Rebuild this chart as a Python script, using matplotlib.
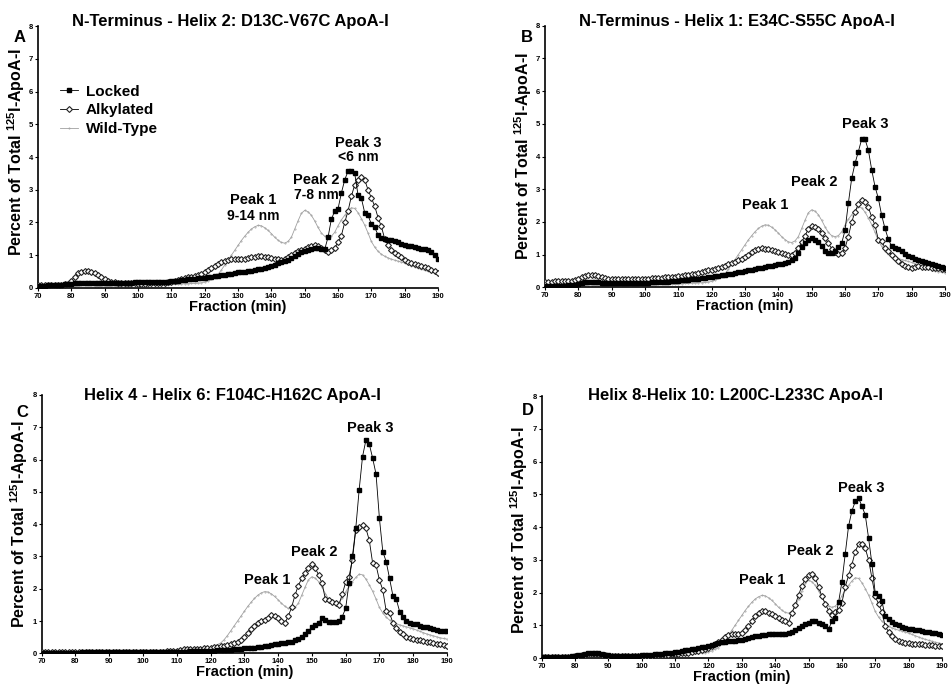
import numpy as np
import matplotlib
matplotlib.use("Agg")
import matplotlib.pyplot as plt

plt.rcParams['font.family'] = ['Liberation Sans', 'DejaVu Sans']
plt.rcParams['font.weight'] = 'bold'
plt.rcParams['mathtext.fontset'] = 'custom'
plt.rcParams['mathtext.bf'] = 'Liberation Sans:bold'
plt.rcParams['mathtext.rm'] = 'Liberation Sans:bold'
plt.rcParams['mathtext.default'] = 'bf'

# Fraction (min), 70..190 every minute
minutes = np.arange(70, 191)

# wild-type reference profile (same in every panel)
wild_type = [
    0.03, 0.03, 0.03, 0.03, 0.03, 0.04, 0.04, 0.04, 0.04, 0.05,
    0.05, 0.06, 0.07, 0.08, 0.08, 0.08, 0.08, 0.07, 0.07, 0.07,
    0.07, 0.07, 0.07, 0.07, 0.07, 0.07, 0.07, 0.07, 0.07, 0.08,
    0.08, 0.08, 0.08, 0.08, 0.09, 0.09, 0.09, 0.10, 0.10, 0.10,
    0.11, 0.11, 0.12, 0.12, 0.13, 0.13, 0.14, 0.14, 0.15, 0.16,
    0.18, 0.22, 0.27, 0.32, 0.42, 0.55, 0.70, 0.85, 1.00, 1.15,
    1.30, 1.45, 1.58, 1.70, 1.80, 1.87, 1.91, 1.90, 1.84, 1.76,
    1.66, 1.55, 1.46, 1.39, 1.37, 1.42, 1.55, 1.80, 2.05, 2.28,
    2.37, 2.33, 2.22, 2.05, 1.85, 1.68, 1.58, 1.55, 1.58, 1.70,
    1.90, 2.08, 2.22, 2.35, 2.45, 2.43, 2.30, 2.12, 1.92, 1.68,
    1.42, 1.25, 1.12, 1.03, 0.97, 0.92, 0.88, 0.85, 0.82, 0.79,
    0.76, 0.72, 0.68, 0.64, 0.60, 0.57, 0.54, 0.51, 0.48, 0.46,
    0.44]

# Panel A: D13C-V67C
locked_a = [
    0.05, 0.06, 0.07, 0.08, 0.09, 0.10, 0.10, 0.10, 0.11, 0.12,
    0.13, 0.14, 0.15, 0.16, 0.16, 0.16, 0.16, 0.16, 0.16, 0.16,
    0.16, 0.16, 0.16, 0.16, 0.16, 0.16, 0.16, 0.16, 0.16, 0.17,
    0.17, 0.17, 0.17, 0.17, 0.17, 0.17, 0.17, 0.18, 0.18, 0.19,
    0.20, 0.21, 0.22, 0.23, 0.25, 0.26, 0.27, 0.28, 0.29, 0.30,
    0.31, 0.33, 0.35, 0.37, 0.38, 0.40, 0.41, 0.42, 0.44, 0.46,
    0.48, 0.49, 0.50, 0.52, 0.53, 0.55, 0.57, 0.59, 0.61, 0.63,
    0.66, 0.70, 0.75, 0.80, 0.82, 0.85, 0.92, 0.98, 1.05, 1.10,
    1.12, 1.15, 1.20, 1.22, 1.22, 1.20, 1.18, 1.55, 2.10, 2.35,
    2.42, 2.90, 3.30, 3.57, 3.57, 3.50, 2.84, 2.74, 2.30, 2.22,
    1.95, 1.85, 1.62, 1.52, 1.50, 1.48, 1.46, 1.44, 1.40, 1.35,
    1.30, 1.28, 1.27, 1.26, 1.22, 1.20, 1.18, 1.16, 1.10, 1.00,
    0.88]
alkylated_a = [
    0.08, 0.09, 0.09, 0.10, 0.10, 0.10, 0.10, 0.10, 0.11, 0.13,
    0.22, 0.35, 0.45, 0.50, 0.51, 0.51, 0.49, 0.45, 0.40, 0.33,
    0.27, 0.22, 0.19, 0.17, 0.16, 0.15, 0.15, 0.14, 0.14, 0.14,
    0.13, 0.13, 0.13, 0.14, 0.14, 0.14, 0.15, 0.15, 0.16, 0.17,
    0.18, 0.20, 0.23, 0.26, 0.30, 0.33, 0.35, 0.37, 0.40, 0.44,
    0.50, 0.56, 0.62, 0.68, 0.74, 0.79, 0.83, 0.86, 0.88, 0.89,
    0.89, 0.89, 0.89, 0.91, 0.94, 0.96, 0.97, 0.97, 0.96, 0.95,
    0.93, 0.90, 0.88, 0.87, 0.88, 0.95, 1.02, 1.08, 1.12, 1.16,
    1.20, 1.24, 1.28, 1.30, 1.27, 1.22, 1.15, 1.10, 1.15, 1.22,
    1.40, 1.60, 2.00, 2.35, 2.80, 3.15, 3.30, 3.40, 3.30, 3.00,
    2.75, 2.50, 2.15, 1.88, 1.50, 1.32, 1.17, 1.08, 1.00, 0.96,
    0.85, 0.80, 0.76, 0.72, 0.70, 0.68, 0.64, 0.60, 0.56, 0.52,
    0.46]

# Panel B: E34C-S55C
locked_b = [
    0.03, 0.03, 0.04, 0.04, 0.04, 0.05, 0.05, 0.06, 0.06, 0.07,
    0.09, 0.12, 0.15, 0.17, 0.17, 0.16, 0.15, 0.13, 0.12, 0.12,
    0.12, 0.12, 0.12, 0.12, 0.12, 0.12, 0.13, 0.13, 0.13, 0.14,
    0.14, 0.14, 0.15, 0.15, 0.15, 0.16, 0.16, 0.17, 0.18, 0.19,
    0.20, 0.21, 0.22, 0.23, 0.24, 0.25, 0.26, 0.27, 0.29, 0.30,
    0.32, 0.34, 0.36, 0.38, 0.39, 0.40, 0.42, 0.44, 0.46, 0.48,
    0.50, 0.52, 0.54, 0.56, 0.58, 0.60, 0.62, 0.64, 0.66, 0.68,
    0.70, 0.72, 0.75, 0.78, 0.82, 0.90, 1.05, 1.22, 1.35, 1.45,
    1.50, 1.46, 1.38, 1.25, 1.12, 1.05, 1.05, 1.12, 1.22, 1.35,
    1.74, 2.57, 3.33, 3.79, 4.15, 4.53, 4.53, 4.20, 3.60, 3.08,
    2.72, 2.20, 1.80, 1.47, 1.25, 1.20, 1.16, 1.10, 1.02, 0.96,
    0.92, 0.88, 0.84, 0.80, 0.76, 0.73, 0.70, 0.67, 0.64, 0.61,
    0.58]
alkylated_b = [
    0.15, 0.16, 0.17, 0.18, 0.18, 0.18, 0.18, 0.19, 0.20, 0.21,
    0.24, 0.30, 0.36, 0.38, 0.38, 0.38, 0.36, 0.32, 0.28, 0.26,
    0.25, 0.25, 0.25, 0.25, 0.25, 0.25, 0.25, 0.25, 0.26, 0.26,
    0.26, 0.26, 0.27, 0.27, 0.28, 0.29, 0.30, 0.31, 0.32, 0.33,
    0.35, 0.36, 0.37, 0.39, 0.40, 0.42, 0.45, 0.48, 0.50, 0.52,
    0.53, 0.55, 0.58, 0.62, 0.66, 0.70, 0.74, 0.78, 0.82, 0.86,
    0.92, 1.00, 1.07, 1.13, 1.17, 1.19, 1.18, 1.16, 1.13, 1.10,
    1.08, 1.06, 1.03, 1.00, 0.98, 1.05, 1.20, 1.38, 1.58, 1.78,
    1.86, 1.85, 1.78, 1.66, 1.50, 1.35, 1.18, 1.08, 1.02, 1.05,
    1.20, 1.55, 2.00, 2.30, 2.55, 2.68, 2.62, 2.45, 2.15, 1.90,
    1.45, 1.42, 1.20, 1.10, 1.00, 0.90, 0.80, 0.72, 0.66, 0.62,
    0.58, 0.62, 0.64, 0.63, 0.62, 0.61, 0.60, 0.59, 0.58, 0.57,
    0.56]

# Panel C: F104C-H162C
locked_c = [
    0.02, 0.02, 0.02, 0.02, 0.02, 0.02, 0.02, 0.02, 0.02, 0.02,
    0.02, 0.02, 0.03, 0.03, 0.03, 0.03, 0.03, 0.03, 0.03, 0.03,
    0.03, 0.03, 0.03, 0.03, 0.03, 0.03, 0.03, 0.03, 0.03, 0.03,
    0.03, 0.03, 0.03, 0.03, 0.04, 0.04, 0.04, 0.04, 0.04, 0.04,
    0.05, 0.05, 0.05, 0.05, 0.06, 0.06, 0.06, 0.07, 0.07, 0.07,
    0.08, 0.08, 0.09, 0.09, 0.10, 0.10, 0.11, 0.12, 0.13, 0.14,
    0.15, 0.16, 0.17, 0.18, 0.19, 0.20, 0.22, 0.24, 0.26, 0.28,
    0.30, 0.31, 0.32, 0.34, 0.36, 0.40, 0.45, 0.52, 0.60, 0.68,
    0.82, 0.88, 0.95, 1.08, 1.02, 0.98, 0.98, 0.98, 1.00, 1.14,
    1.39, 2.17, 3.00, 3.87, 5.06, 6.09, 6.60, 6.48, 6.04, 5.55,
    4.18, 3.15, 2.84, 2.32, 1.78, 1.67, 1.29, 1.14, 1.00, 0.95,
    0.92, 0.90, 0.86, 0.82, 0.80, 0.77, 0.74, 0.72, 0.70, 0.69,
    0.70]
alkylated_c = [
    0.03, 0.03, 0.03, 0.03, 0.03, 0.03, 0.03, 0.03, 0.03, 0.03,
    0.03, 0.03, 0.04, 0.04, 0.04, 0.04, 0.04, 0.04, 0.04, 0.04,
    0.04, 0.04, 0.04, 0.04, 0.04, 0.04, 0.04, 0.04, 0.04, 0.04,
    0.04, 0.04, 0.04, 0.05, 0.05, 0.05, 0.05, 0.06, 0.06, 0.07,
    0.08, 0.10, 0.13, 0.12, 0.12, 0.12, 0.13, 0.14, 0.15, 0.16,
    0.18, 0.19, 0.20, 0.22, 0.24, 0.26, 0.29, 0.32, 0.36, 0.42,
    0.52, 0.62, 0.74, 0.85, 0.93, 0.99, 1.04, 1.10, 1.19, 1.16,
    1.08, 1.00, 0.93, 1.15, 1.42, 1.80, 2.10, 2.32, 2.50, 2.65,
    2.78, 2.65, 2.42, 2.17, 1.68, 1.65, 1.60, 1.55, 1.50, 1.83,
    2.20, 2.37, 2.90, 3.82, 3.92, 3.97, 3.87, 3.50, 2.79, 2.73,
    2.27, 1.96, 1.31, 1.24, 0.95, 0.77, 0.65, 0.60, 0.52, 0.48,
    0.45, 0.42, 0.40, 0.38, 0.36, 0.34, 0.32, 0.30, 0.28, 0.26,
    0.23]

# Panel D: L200C-L233C
locked_d = [
    0.03, 0.03, 0.03, 0.03, 0.03, 0.03, 0.03, 0.04, 0.04, 0.05,
    0.06, 0.08, 0.10, 0.12, 0.14, 0.15, 0.15, 0.14, 0.12, 0.10,
    0.08, 0.07, 0.07, 0.07, 0.07, 0.07, 0.07, 0.07, 0.07, 0.07,
    0.08, 0.08, 0.09, 0.10, 0.11, 0.12, 0.13, 0.14, 0.15, 0.16,
    0.18, 0.19, 0.21, 0.23, 0.25, 0.27, 0.29, 0.31, 0.33, 0.35,
    0.37, 0.39, 0.42, 0.45, 0.48, 0.50, 0.51, 0.52, 0.53, 0.54,
    0.55, 0.57, 0.60, 0.63, 0.66, 0.68, 0.70, 0.71, 0.72, 0.73,
    0.74, 0.73, 0.72, 0.74, 0.76, 0.80, 0.85, 0.92, 0.98, 1.04,
    1.08, 1.12, 1.12, 1.08, 1.04, 0.98, 0.88, 1.12, 1.22, 1.70,
    2.32, 3.18, 4.03, 4.49, 4.78, 4.88, 4.64, 4.37, 3.66, 2.88,
    1.98, 1.88, 1.73, 1.27, 1.18, 1.10, 1.04, 1.00, 0.96, 0.93,
    0.90, 0.88, 0.86, 0.84, 0.82, 0.80, 0.79, 0.77, 0.75, 0.73,
    0.70]
alkylated_d = [
    0.02, 0.02, 0.02, 0.02, 0.02, 0.03, 0.03, 0.03, 0.03, 0.04,
    0.05, 0.06, 0.08, 0.10, 0.12, 0.13, 0.13, 0.12, 0.10, 0.08,
    0.07, 0.06, 0.06, 0.06, 0.06, 0.06, 0.06, 0.06, 0.06, 0.06,
    0.06, 0.06, 0.07, 0.07, 0.08, 0.08, 0.09, 0.10, 0.10, 0.11,
    0.12, 0.13, 0.14, 0.15, 0.16, 0.18, 0.20, 0.22, 0.25, 0.28,
    0.32, 0.36, 0.42, 0.48, 0.56, 0.65, 0.70, 0.72, 0.73, 0.74,
    0.76, 0.86, 0.98, 1.12, 1.28, 1.38, 1.44, 1.42, 1.38, 1.33,
    1.28, 1.22, 1.16, 1.12, 1.08, 1.38, 1.62, 1.92, 2.20, 2.42,
    2.54, 2.56, 2.45, 2.18, 1.88, 1.66, 1.45, 1.30, 1.40, 1.46,
    1.68, 2.18, 2.52, 2.85, 3.25, 3.48, 3.48, 3.35, 3.00, 2.44,
    1.88, 1.65, 1.40, 0.97, 0.80, 0.66, 0.58, 0.51, 0.48, 0.46,
    0.45, 0.44, 0.43, 0.42, 0.42, 0.41, 0.40, 0.39, 0.38, 0.37,
    0.36]

titles = ['N-Terminus - Helix 2: D13C-V67C ApoA-I',
          'N-Terminus - Helix 1: E34C-S55C ApoA-I',
          'Helix 4 - Helix 6: F104C-H162C ApoA-I',
          'Helix 8-Helix 10: L200C-L233C ApoA-I']
letters = ['A', 'B', 'C', 'D']
locked_all = [locked_a, locked_b, locked_c, locked_d]
alkylated_all = [alkylated_a, alkylated_b, alkylated_c, alkylated_d]

# peak labels: (text, x, y) per panel
peak_labels = [
    [('Peak 1', 134.6, 2.69), ('9-14 nm', 134.6, 2.21),
     ('Peak 2', 153.4, 3.30), ('7-8 nm', 153.4, 2.84),
     ('Peak 3', 166.2, 4.44), ('<6 nm', 166.2, 4.00)],
    [('Peak 1', 136.0, 2.52), ('Peak 2', 150.8, 3.21), ('Peak 3', 166.0, 5.00)],
    [('Peak 1', 136.7, 2.27), ('Peak 2', 150.7, 3.15), ('Peak 3', 167.3, 6.98)],
    [('Peak 1', 136.2, 2.38), ('Peak 2', 150.5, 3.27), ('Peak 3', 165.7, 5.20)],
]

# axes rectangles in figure fraction
rects = [[0.040, 0.5814, 0.4206, 0.3808],
         [0.5731, 0.5824, 0.4206, 0.3802],
         [0.0438, 0.0504, 0.4262, 0.3755],
         [0.5696, 0.0436, 0.4209, 0.3808]]
title_x = [0.48, 0.48, 0.47, 0.485]
title_y = [1.0, 1.0, 0.98, 0.985]
letter_x = [-0.045, -0.045, -0.047, -0.035]
letter_y = [0.985, 0.985, 0.96, 0.975]
ylabel_y = [0.52, 0.5, 0.5, 0.49]

fig = plt.figure(figsize=(9.51, 6.88), dpi=100)

for i in range(4):
    ax = fig.add_axes(rects[i])
    ax.plot(minutes, wild_type, color='#a0a0a0', lw=0.6, marker='.', ms=0.8,
            label='Wild-Type', zorder=2)
    ax.plot(minutes, alkylated_all[i], color='black', lw=0.6, marker='D', ms=3.0,
            mfc='white', mec='#202020', mew=0.8, label='Alkylated', zorder=3)
    ax.plot(minutes, locked_all[i], color='black', lw=0.6, marker='s', ms=3.4,
            label='Locked', zorder=4)

    ax.set_xlim(70, 190)
    ax.set_ylim(0, 8)
    ax.set_xticks(np.arange(70, 191, 10))
    ax.set_yticks(np.arange(0, 9, 1))
    ax.spines['top'].set_visible(False)
    ax.spines['right'].set_visible(False)
    ax.spines['left'].set_linewidth(1.2)
    ax.spines['bottom'].set_linewidth(1.2)
    ax.tick_params(direction='out', length=2.5, width=0.8, labelsize=5.5, pad=1)
    for lab in ax.get_xticklabels() + ax.get_yticklabels():
        lab.set_fontweight('bold')

    ax.set_xlabel('Fraction (min)', fontsize=10.5, fontweight='bold', labelpad=0)
    ax.set_ylabel('Percent of Total $^{125}$I-ApoA-I', fontsize=11.5,
                  fontweight='bold')
    ax.yaxis.set_label_coords(-0.028, ylabel_y[i])
    ax.text(title_x[i], title_y[i], titles[i], transform=ax.transAxes,
            ha='center', va='baseline', fontsize=12, fontweight='bold')
    for txt, px, py in peak_labels[i]:
        fs = 10.5 if 'Peak' in txt else 10
        ax.text(px, py, txt, ha='center', va='center', fontsize=fs, fontweight='bold')

    ax.text(letter_x[i], letter_y[i], letters[i], transform=ax.transAxes,
            ha='center', va='top', fontsize=12, fontweight='bold')

    if i == 0:
        h, l = ax.get_legend_handles_labels()
        ax.legend(h[::-1], l[::-1], loc='upper left', bbox_to_anchor=(0.02, 0.828),
                  frameon=False, handlelength=1.2, handletextpad=0.5,
                  labelspacing=0.3, prop={'weight': 'bold', 'size': 11})

fig.savefig('out.png', dpi=100)
